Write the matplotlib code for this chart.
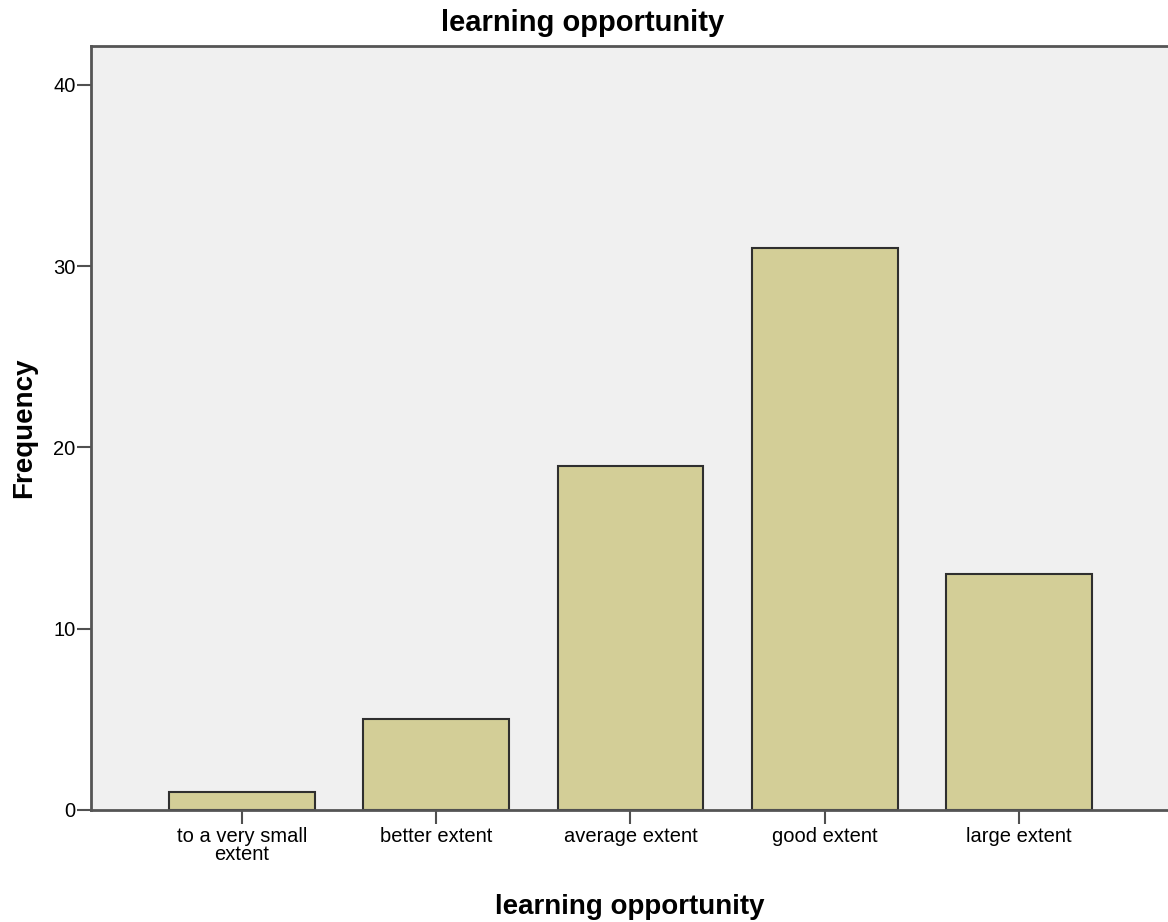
import matplotlib
matplotlib.use("Agg")
import matplotlib.pyplot as plt

plt.rcParams['font.family'] = ['Liberation Sans', 'DejaVu Sans']

# Frequency per response category
categories = ["to a very small\nextent", "better extent", "average extent",
              "good extent", "large extent"]
frequencies = [1, 5, 19, 31, 13]

fig = plt.figure(figsize=(11.68, 9.22), dpi=100)
ax = fig.add_axes([0.0779, 0.1215, 0.9221, 0.8286])
ax.set_facecolor('#f0f0f0')

pos = list(range(len(categories)))
ax.bar(pos, frequencies, width=0.75, color='#d3ce97', edgecolor='#2f2f2f',
       linewidth=1.5, zorder=2)

ax.set_xlim(-0.777, 4.767)
ax.set_ylim(0, 42.15)
ax.set_yticks([0, 10, 20, 30, 40])
ax.set_xticks(pos)
ax.set_xticklabels(categories, fontsize=14.5, linespacing=0.95)
ax.tick_params(axis='y', labelsize=14.5, length=10, width=1.5, color='#505050', pad=1)
ax.tick_params(axis='x', length=10, width=1.5, color='#505050', pad=2)

for side in ['left', 'top', 'bottom']:
    ax.spines[side].set_color('#555555')
    ax.spines[side].set_linewidth(2)
ax.spines['right'].set_visible(False)

ax.set_ylabel('Frequency', fontsize=20, fontweight='bold', labelpad=12)
ax.set_xlabel('learning opportunity', fontsize=20, fontweight='bold', labelpad=22)
fig.text(0.499, 0.975, 'learning opportunity', ha='center', va='center',
         fontsize=21, fontweight='bold')

plt.savefig('out.png')
